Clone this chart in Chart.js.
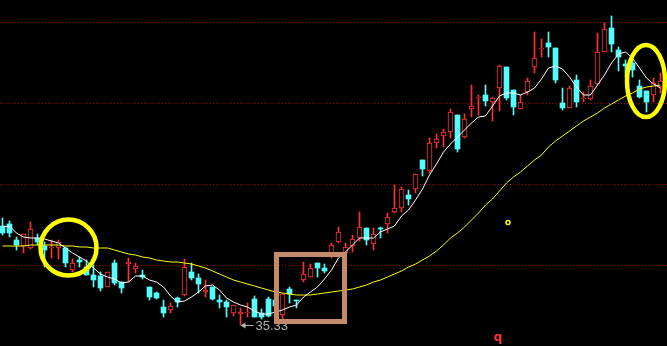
<!DOCTYPE html>
<html>
<head>
<meta charset="utf-8">
<script src="https://cdn.jsdelivr.net/npm/chart.js@4.4.1/dist/chart.umd.min.js"></script>
<style>
  html, body { margin: 0; padding: 0; background: #000; }
  #chart { display: block; }
</style>
</head>
<body>
<canvas id="chart" width="667" height="346"></canvas>
<script>
// daily candles
var opens = [40.28,40.38,39.58,39.28,39.18,39.68,39.28,39.18,39.18,39.18,
  38.08,38.58,38.23,37.83,37.78,37.23,38.43,37.48,38.38,38.13,
  37.83,37.23,36.93,36.23,36.08,36.68,36.83,37.98,37.68,36.98,
  37.23,36.58,36.48,35.93,35.88,35.93,36.63,35.93,36.63,36.58,
  35.83,37.13,36.58,37.58,37.73,38.43,38.18,38.78,39.48,38.93,
  39.28,39.68,40.18,39.38,40.18,40.38,40.98,41.18,41.83,42.13,
  43.58,43.03,44.43,44.78,44.98,45.83,44.73,46.13,46.68,46.83,
  46.48,47.18,48.23,47.08,46.13,46.98,48.23,49.13,49.43,49.18,
  46.43,46.18,47.58,46.63,46.63,47.38,48.98,50.18,49.08,48.38,
  48.43,47.28,47.03,46.83,47.23];
var closes = [39.93,39.93,39.33,39.88,40.13,39.48,39.08,39.23,39.48,38.43,
  38.43,38.48,37.83,37.58,37.18,37.98,37.43,37.18,38.48,38.28,
  37.73,36.73,36.68,35.93,36.28,36.48,38.23,37.68,37.38,37.08,
  36.63,36.48,36.23,36.33,35.98,35.98,35.73,35.73,35.78,36.28,
  36.88,36.88,36.53,37.88,38.18,38.18,38.03,39.33,39.98,39.23,
  39.63,40.23,39.58,39.88,40.13,40.73,41.18,42.13,41.63,42.88,
  43.13,44.43,44.63,44.98,45.98,44.13,45.63,46.28,46.73,46.53,
  46.68,48.28,46.68,46.23,46.48,47.53,48.68,49.18,49.23,47.58,
  46.18,47.18,46.48,46.68,47.28,48.98,50.13,49.38,48.73,48.28,
  48.08,46.73,46.48,47.43,47.53];
var highs = [40.68,40.53,39.73,39.88,40.48,39.88,39.48,39.58,39.58,39.23,
  38.63,38.73,38.58,38.33,37.98,37.98,38.58,37.48,38.68,38.43,
  38.08,37.23,36.98,36.58,36.43,36.73,38.63,38.43,37.88,37.58,
  37.23,36.83,36.58,36.33,36.18,36.43,36.78,36.13,36.73,36.68,
  36.88,37.23,36.58,38.48,38.38,38.43,38.38,39.43,40.23,39.43,
  39.83,40.98,40.18,40.18,40.23,40.93,42.33,42.23,42.08,42.88,
  43.58,44.68,44.88,45.13,46.13,45.83,45.88,47.33,46.83,47.33,
  46.73,48.33,48.23,47.08,46.83,47.68,49.98,49.63,49.98,49.18,
  47.18,47.28,47.83,46.98,47.58,49.93,50.43,50.78,49.23,48.58,
  48.58,47.58,47.03,47.68,47.93];
var lows = [39.83,39.73,39.08,38.93,39.13,39.33,38.23,38.68,38.63,38.23,
  37.98,38.23,37.83,37.23,37.03,37.23,37.33,36.93,37.48,37.93,
  37.63,36.58,36.63,35.73,35.93,36.23,36.78,37.58,36.93,36.73,
  36.58,36.18,35.73,35.78,35.33,35.73,35.73,35.63,35.73,36.08,
  35.58,36.43,36.18,37.48,37.73,37.73,37.93,38.68,39.43,38.73,
  38.98,39.53,39.33,39.08,39.68,39.93,40.93,40.98,41.33,41.93,
  42.78,42.93,44.18,44.23,44.68,43.98,44.68,45.73,45.83,46.28,
  45.53,46.03,46.58,45.83,46.13,46.83,47.93,48.73,48.73,47.43,
  46.08,46.18,46.23,46.48,46.58,47.33,48.98,48.98,48.03,47.73,
  47.73,46.68,45.98,46.48,46.93];

// moving averages as drawn (white short, yellow long)
var maShort = [40.23,40.28,39.93,39.73,39.68,39.68,39.63,39.53,39.43,39.18,
  38.93,38.73,38.53,38.18,37.88,37.73,37.63,37.43,37.48,37.78,
  37.78,37.58,37.48,37.23,36.78,36.48,36.53,36.73,36.98,37.28,
  37.33,37.08,36.68,36.48,36.33,36.23,36.03,35.88,35.88,35.98,
  36.08,36.23,36.33,36.73,36.98,37.23,37.63,38.08,38.68,38.98,
  39.33,39.68,39.68,39.68,39.98,40.13,40.28,40.78,41.08,41.58,
  42.13,42.83,43.38,43.98,44.38,44.73,45.08,45.43,45.73,45.78,
  46.28,46.78,46.93,46.93,46.83,46.98,47.18,47.63,48.18,48.28,
  48.13,47.73,47.23,46.83,46.83,47.33,47.83,48.43,48.88,48.98,
  48.68,48.18,47.68,47.38,47.18];
var maLong = [39.28,39.28,39.28,39.28,39.33,39.33,39.33,39.33,39.33,39.28,
  39.28,39.23,39.23,39.18,39.18,39.18,39.08,38.98,38.88,38.83,
  38.73,38.68,38.58,38.53,38.48,38.48,38.43,38.38,38.28,38.18,
  38.03,37.88,37.73,37.58,37.48,37.38,37.28,37.18,37.08,36.98,
  36.93,36.88,36.83,36.83,36.83,36.88,36.93,36.98,37.03,37.08,
  37.13,37.23,37.33,37.48,37.58,37.73,37.88,38.03,38.23,38.38,
  38.58,38.78,39.03,39.33,39.68,39.93,40.23,40.58,40.93,41.33,
  41.63,42.03,42.43,42.73,42.98,43.28,43.58,43.83,44.23,44.53,
  44.78,45.03,45.28,45.53,45.73,45.93,46.18,46.38,46.58,46.78,
  46.93,47.13,47.23,47.28,47.33];

var gridPrices = [50.48, 46.43, 42.38, 38.33];
var lowLabel = "35.33";
var lowIndex = 34;

var RED = '#ff3232';
var CYAN = '#54fcfc';

var wicks = [], bodies = [], lineShort = [], lineLong = [];
var wickColors = [], bodyFill = [], bodyBorder = [], bodyBorderW = [];
for (var i = 0; i < opens.length; i++) {
  var up = closes[i] >= opens[i];
  wicks.push({x: i, y: [lows[i], highs[i]]});
  bodies.push({x: i, y: [opens[i], closes[i]]});
  wickColors.push(up ? RED : CYAN);
  bodyFill.push(up ? '#000000' : CYAN);
  bodyBorder.push(up ? RED : CYAN);
  bodyBorderW.push(up ? 1 : 0);
  lineShort.push({x: i, y: maShort[i]});
  lineLong.push({x: i, y: maLong[i]});
}

var marks = {
  id: 'marks',
  beforeDraw: function(chart) {
    var c = chart.ctx;
    c.save();
    c.fillStyle = '#000';
    c.fillRect(0, 0, chart.width, chart.height);
    c.restore();
  },
  beforeDatasetsDraw: function(chart) {
    var c = chart.ctx, y = chart.scales.y;
    c.save();
    c.strokeStyle = '#a00000';
    c.lineWidth = 1;
    c.setLineDash([1, 2]);
    gridPrices.forEach(function(p) {
      var py = Math.round(y.getPixelForValue(p)) + 0.5;
      c.beginPath();
      c.moveTo(0, py);
      c.lineTo(chart.width, py);
      c.stroke();
    });
    c.restore();
  },
  afterDraw: function(chart) {
    var c = chart.ctx, x = chart.scales.x, y = chart.scales.y;
    c.save();

    // lowest price label
    var lx = x.getPixelForValue(lowIndex), ly = y.getPixelForValue(lows[lowIndex]);
    c.strokeStyle = '#b4b4b4';
    c.fillStyle = '#b4b4b4';
    c.lineWidth = 1;
    c.beginPath();
    c.moveTo(lx + 1, ly + 0.5);
    c.lineTo(lx + 13, ly + 0.5);
    c.stroke();
    c.beginPath();
    c.moveTo(lx, ly + 0.5);
    c.lineTo(lx + 5, ly - 2.5);
    c.lineTo(lx + 5, ly + 3.5);
    c.closePath();
    c.fill();
    c.font = '13px "Liberation Sans", Arial, sans-serif';
    c.textBaseline = 'middle';
    c.fillText(lowLabel, lx + 15, ly + 1);

    // yellow circles
    c.strokeStyle = '#ffff00';
    c.lineWidth = 4.5;
    c.beginPath();
    c.arc(x.getPixelForValue(9.43), y.getPixelForValue(39.2), 28, 0, Math.PI * 2);
    c.stroke();
    c.beginPath();
    c.ellipse(x.getPixelForValue(91.93), y.getPixelForValue(47.53), 19, 36, 0, 0, Math.PI * 2);
    c.stroke();

    // small ring
    c.lineWidth = 1.5;
    c.beginPath();
    c.arc(x.getPixelForValue(72.21), y.getPixelForValue(40.45), 2, 0, Math.PI * 2);
    c.stroke();

    // box
    var bx0 = x.getPixelForValue(39.14), bx1 = x.getPixelForValue(48.86);
    var by0 = y.getPixelForValue(38.855), by1 = y.getPixelForValue(35.505);
    c.strokeStyle = '#c48b6a';
    c.lineWidth = 5;
    c.strokeRect(bx0, by0, bx1 - bx0, by1 - by0);

    // red marker
    c.fillStyle = RED;
    c.font = 'bold 12px "DejaVu Sans", sans-serif';
    c.textAlign = 'center';
    c.textBaseline = 'alphabetic';
    c.fillText('q', x.getPixelForValue(70.79), y.getPixelForValue(34.63) + 2);
    c.restore();
  }
};

new Chart(document.getElementById('chart'), {
  type: 'bar',
  data: {
    datasets: [
      { type: 'line', data: lineShort, borderColor: '#ffffff', borderWidth: 1,
        pointRadius: 0, tension: 0, order: 0 },
      { type: 'line', data: lineLong, borderColor: '#ffff00', borderWidth: 1,
        pointRadius: 0, tension: 0, order: 1 },
      { data: bodies, backgroundColor: bodyFill, borderColor: bodyBorder,
        borderWidth: bodyBorderW, borderSkipped: false, barThickness: 5,
        grouped: false, order: 2 },
      { data: wicks, backgroundColor: wickColors, borderWidth: 0,
        barThickness: 1, grouped: false, order: 3 }
    ]
  },
  options: {
    responsive: false,
    animation: false,
    layout: { padding: 0 },
    plugins: { legend: { display: false }, tooltip: { enabled: false } },
    scales: {
      x: { type: 'linear', display: false, offset: false, min: -2.5 / 7, max: 664.5 / 7 },
      y: { display: false, min: 34.28, max: 51.58 }
    }
  },
  plugins: [marks]
});
</script>
</body>
</html>
